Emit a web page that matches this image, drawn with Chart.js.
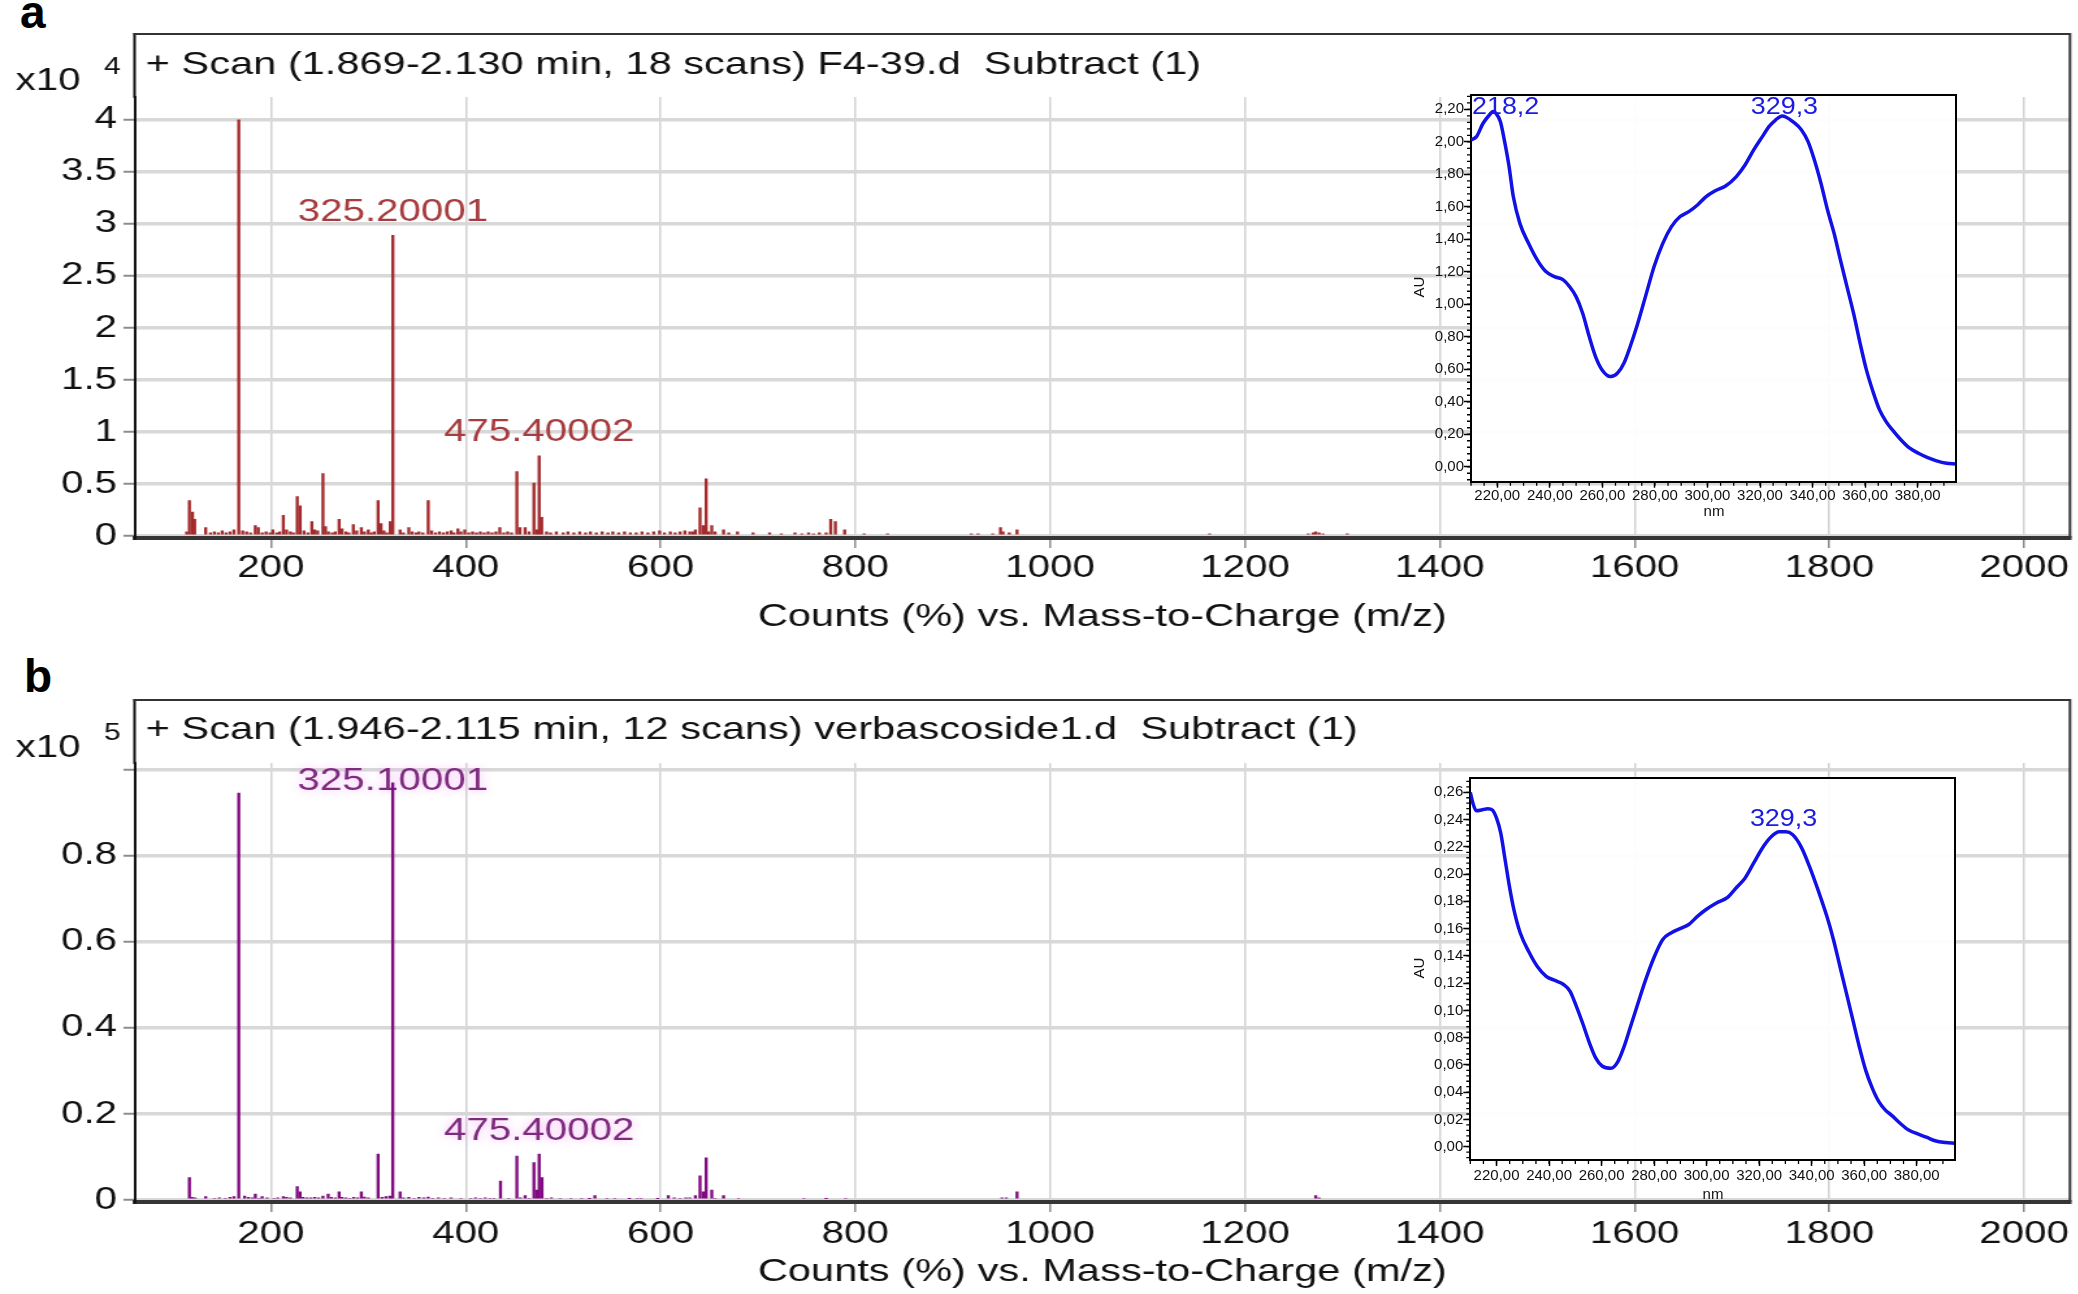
<!DOCTYPE html>
<html>
<head>
<meta charset="utf-8">
<script src="https://cdn.jsdelivr.net/npm/chart.js@4.4.1/dist/chart.umd.min.js"></script>
<style>
  html, body { margin: 0; padding: 0; background: #fff; }
  body { width: 2078px; height: 1294px; position: relative; overflow: hidden; }
  .stretch { position: absolute; left: 0; transform: scaleX(1.3); transform-origin: 0 0; }
  .uv { position: absolute; }
  .letter { position: absolute; font: bold 46px 'Liberation Sans', Arial, sans-serif; line-height: 46px; color: #000; }
</style>
</head>
<body>
<div class="letter" style="left:20px;top:-11px">a</div>
<div class="letter" style="left:24px;top:653px">b</div>
<div class="stretch" style="top:0;width:1598px;height:650px"><canvas id="msA" width="1598" height="650"></canvas></div>
<div class="stretch" style="top:650px;width:1598px;height:644px"><canvas id="msB" width="1598" height="644"></canvas></div>
<canvas id="uvA" class="uv" width="570" height="450" style="left:1400px;top:80px"></canvas>
<canvas id="uvB" class="uv" width="570" height="450" style="left:1400px;top:760px"></canvas>
<script>
const FONT = "'Liberation Sans', Arial, Helvetica, sans-serif";

// ---------- Mass spectra (m/z vs counts) ----------
const mzTicks = [200, 400, 600, 800, 1000, 1200, 1400, 1600, 1800, 2000];
const xTitle = 'Counts (%) vs. Mass-to-Charge (m/z)';

// Panel a (x10^4 counts)
const titleA = '+ Scan (1.869-2.130 min, 18 scans) F4-39.d  Subtract (1)';
const mzA = [113.5, 116.3, 119.5, 121.7, 133, 138, 142, 146, 150, 154, 158, 162, 167, 171, 175, 179, 184, 187, 191, 195, 199, 202, 206, 209, 212.7, 216, 220, 223, 227, 230, 234, 238, 242, 245, 248, 253.4, 256, 259, 263, 266, 270, 273, 277, 280, 284.6, 288, 292.8, 296, 300, 303, 306, 310, 313, 316, 319, 322.5, 325.2, 332.6, 336, 341.6, 345, 349, 352, 356, 361.5, 365, 369, 373, 377, 381, 385, 388, 392, 395, 399, 403, 407, 411, 415, 419, 423, 427, 431, 435, 439, 443, 447, 452.5, 455.6, 461, 465, 470, 473, 475.4, 478, 483, 487, 493, 500, 505, 511, 517, 523, 528, 534, 540, 546, 551, 557, 563, 569, 575, 581, 587, 593, 599, 604, 610, 615, 620, 625, 630, 633, 635.8, 640.5, 643.7, 646.8, 649.5, 652.6, 656, 664.7, 670, 679, 695, 712, 724, 738, 745, 752, 757, 763, 770, 774.7, 779.5, 789, 809, 833, 919, 926, 941, 949, 951.6, 958, 966, 1163.7, 1265, 1270, 1272.6, 1276, 1280, 1305];
const intA = [0.04, 0.34, 0.23, 0.16, 0.08, 0.03, 0.04, 0.03, 0.05, 0.03, 0.04, 0.06, 4.00, 0.05, 0.04, 0.03, 0.10, 0.08, 0.03, 0.04, 0.03, 0.06, 0.03, 0.04, 0.20, 0.06, 0.04, 0.03, 0.38, 0.29, 0.05, 0.03, 0.14, 0.06, 0.05, 0.60, 0.09, 0.04, 0.03, 0.04, 0.16, 0.07, 0.04, 0.03, 0.11, 0.05, 0.08, 0.04, 0.06, 0.03, 0.04, 0.34, 0.12, 0.05, 0.03, 0.14, 2.89, 0.06, 0.03, 0.08, 0.04, 0.03, 0.04, 0.03, 0.34, 0.05, 0.03, 0.04, 0.03, 0.04, 0.05, 0.03, 0.07, 0.04, 0.06, 0.03, 0.04, 0.03, 0.04, 0.03, 0.04, 0.03, 0.04, 0.08, 0.03, 0.04, 0.03, 0.62, 0.08, 0.08, 0.04, 0.51, 0.06, 0.77, 0.18, 0.04, 0.03, 0.04, 0.03, 0.04, 0.03, 0.04, 0.03, 0.04, 0.03, 0.04, 0.03, 0.04, 0.03, 0.04, 0.03, 0.03, 0.04, 0.03, 0.04, 0.05, 0.03, 0.04, 0.03, 0.04, 0.05, 0.04, 0.04, 0.06, 0.27, 0.10, 0.55, 0.04, 0.10, 0.04, 0.06, 0.03, 0.04, 0.03, 0.03, 0.02, 0.03, 0.02, 0.03, 0.02, 0.03, 0.03, 0.16, 0.14, 0.06, 0.02, 0.02, 0.02, 0.02, 0.02, 0.08, 0.04, 0.03, 0.06, 0.02, 0.02, 0.03, 0.04, 0.03, 0.02, 0.02];
const yTicksA = [0, 0.5, 1, 1.5, 2, 2.5, 3, 3.5, 4];
const yLabelsA = ['0', '0.5', '1', '1.5', '2', '2.5', '3', '3.5', '4'];
const annMzA = [325.2, 475.4];
const annTextA = ['325.20001', '475.40002'];

// Panel b (x10^5 counts)
const titleB = '+ Scan (1.946-2.115 min, 12 scans) verbascoside1.d  Subtract (1)';
const mzB = [116.3, 119, 122, 133, 142, 147, 153, 158, 162, 167, 173, 177, 181, 184, 188, 191, 196, 203, 207, 212.7, 216, 220, 227, 229.9, 233, 237, 241, 245, 249, 253.4, 258.8, 262, 266, 270, 273, 277, 281, 285, 289, 292.8, 296, 300, 310, 314, 318, 322, 325.1, 332.6, 336, 341.6, 347, 352, 357, 361.5, 366, 372, 378, 385, 395, 405, 410, 415, 420, 425, 429, 435.7, 444, 452.5, 456, 461, 465, 470, 472.9, 475.4, 478.3, 483, 488, 497, 508, 519, 527, 532.6, 545, 553, 568, 576, 580, 597, 608, 614, 620, 626, 630, 635.8, 640.5, 643.7, 646.8, 652.6, 656, 664.7, 680, 747, 770, 790, 950.5, 955, 966, 1272.6, 1276];
const intB = [0.052, 0.006, 0.005, 0.008, 0.004, 0.005, 0.004, 0.006, 0.008, 0.946, 0.009, 0.006, 0.005, 0.014, 0.004, 0.008, 0.005, 0.004, 0.005, 0.008, 0.006, 0.005, 0.031, 0.019, 0.006, 0.005, 0.005, 0.006, 0.005, 0.009, 0.014, 0.006, 0.005, 0.019, 0.006, 0.005, 0.004, 0.006, 0.005, 0.019, 0.007, 0.005, 0.107, 0.006, 0.008, 0.009, 0.970, 0.019, 0.005, 0.006, 0.004, 0.006, 0.005, 0.007, 0.004, 0.005, 0.004, 0.005, 0.004, 0.004, 0.005, 0.004, 0.005, 0.004, 0.004, 0.044, 0.004, 0.102, 0.005, 0.010, 0.004, 0.087, 0.023, 0.107, 0.052, 0.004, 0.005, 0.004, 0.004, 0.004, 0.003, 0.010, 0.004, 0.004, 0.003, 0.004, 0.004, 0.003, 0.010, 0.005, 0.004, 0.005, 0.005, 0.010, 0.056, 0.019, 0.098, 0.023, 0.004, 0.010, 0.004, 0.004, 0.003, 0.004, 0.005, 0.005, 0.019, 0.010, 0.005];
const yTicksB = [0, 0.2, 0.4, 0.6, 0.8, 1.0];
const yLabelsB = ['0', '0.2', '0.4', '0.6', '0.8', ''];
const annMzB = [325.1, 475.4];
const annTextB = ['325.10001', '475.40002'];

// ---------- UV spectra (AU vs nm) ----------
const uvXTicks = [220, 240, 260, 280, 300, 320, 340, 360, 380];
const nmA = [210, 212.1, 214.6, 217, 218.4, 219.5, 221.2, 222.8, 224.5, 226.1, 228.6, 231.9, 235.2, 238.5, 241.8, 245.1, 247.5, 250, 252.5, 255, 257.4, 259.9, 263.2, 265.7, 268.2, 270.6, 273.1, 276.4, 279.7, 283, 286.3, 289.6, 292.9, 296.2, 299.5, 302.8, 306.9, 311, 314.3, 317.6, 320.9, 323.4, 325.9, 328.4, 330, 332.5, 335.8, 338.3, 340.7, 343.2, 345.7, 348.2, 350.6, 353.1, 355.6, 358.1, 360.5, 363, 365.5, 368, 370.4, 373.7, 377, 380.3, 383.6, 386.9, 391, 394.6];
const auA = [2.011, 2.032, 2.114, 2.165, 2.186, 2.175, 2.124, 2.001, 1.847, 1.663, 1.498, 1.375, 1.273, 1.201, 1.170, 1.150, 1.109, 1.047, 0.945, 0.801, 0.678, 0.596, 0.555, 0.575, 0.637, 0.740, 0.863, 1.047, 1.232, 1.375, 1.478, 1.540, 1.570, 1.611, 1.663, 1.697, 1.728, 1.786, 1.857, 1.950, 2.032, 2.093, 2.134, 2.159, 2.151, 2.124, 2.073, 2.001, 1.888, 1.745, 1.580, 1.437, 1.273, 1.109, 0.945, 0.760, 0.596, 0.463, 0.350, 0.278, 0.227, 0.165, 0.114, 0.083, 0.058, 0.038, 0.021, 0.017];
const uvYTicksA = [0, 0.2, 0.4, 0.6, 0.8, 1.0, 1.2, 1.4, 1.6, 1.8, 2.0, 2.2];
const uvPeakNmA = [218.2, 329.3];
const uvPeakTextA = ['218,2', '329,3'];

const nmB = [210, 211, 212.3, 214.2, 216.7, 218.4, 220, 221.6, 223.3, 224.9, 226.6, 229, 232.3, 235.6, 238.9, 242.2, 245.5, 248, 250.4, 252.9, 255.4, 257.8, 260.3, 263.6, 266.1, 268.5, 271, 273.5, 276.7, 280, 283.3, 286.6, 289.9, 293.2, 296.5, 299.8, 303.9, 308, 311.3, 314.6, 317.9, 321.2, 324.4, 327.7, 330.2, 332.7, 336, 339.2, 342.5, 345.8, 348.3, 350.8, 353.2, 355.7, 358.2, 360.6, 363.1, 365.6, 368, 370.5, 373.8, 377.1, 380.4, 383.7, 387, 391.1, 394.6];
const auB = [0.260, 0.252, 0.2465, 0.247, 0.248, 0.247, 0.241, 0.230, 0.210, 0.191, 0.174, 0.157, 0.143, 0.132, 0.125, 0.122, 0.119, 0.114, 0.103, 0.090, 0.076, 0.065, 0.059, 0.0575, 0.062, 0.073, 0.088, 0.103, 0.122, 0.139, 0.152, 0.157, 0.160, 0.163, 0.169, 0.174, 0.179, 0.183, 0.190, 0.197, 0.208, 0.219, 0.227, 0.231, 0.231, 0.229, 0.220, 0.2055, 0.188, 0.169, 0.152, 0.132, 0.113, 0.093, 0.073, 0.056, 0.043, 0.033, 0.027, 0.023, 0.017, 0.012, 0.0094, 0.007, 0.0044, 0.003, 0.0025];
const uvYTicksB = [0, 0.02, 0.04, 0.06, 0.08, 0.10, 0.12, 0.14, 0.16, 0.18, 0.20, 0.22, 0.24, 0.26];
const uvPeakNmB = [329.3];
const uvPeakTextB = ['329,3'];

function peakHeight(xs, ys, x0, win) {
  let best = 0;
  xs.forEach((x, i) => { if (Math.abs(x - x0) <= win && ys[i] > best) best = ys[i]; });
  return best;
}

function framePlugin(c) {
  return {
    id: 'msFrame',
    beforeDatasetsDraw(chart) {
      const ctx = chart.ctx, a = chart.chartArea, xs = chart.scales.x, ys = chart.scales.y;
      ctx.save();
      ctx.font = '31px ' + FONT;
      ctx.textAlign = 'center';
      ctx.textBaseline = 'middle';
      ctx.fillStyle = c.labelColor;
      if (c.halo) { ctx.shadowColor = c.halo; ctx.shadowBlur = 8; }
      c.annMz.forEach((mz, i) => {
        const h = peakHeight(c.mz, c.inten, mz, 1.5);
        const px = xs.getPixelForValue(mz);
        const py = Math.max(ys.getPixelForValue(h) - 23, a.top + 18);
        ctx.fillText(c.annText[i], px, py);
      });
      ctx.restore();
    },
    afterDraw(chart) {
      const ctx = chart.ctx, a = chart.chartArea;
      ctx.save();
      ctx.strokeStyle = '#111';
      ctx.lineWidth = 2;
      ctx.beginPath(); ctx.moveTo(a.left, a.top + 1); ctx.lineTo(a.left, c.frameTop - 1); ctx.stroke();
      ctx.strokeStyle = '#333';
      ctx.beginPath(); ctx.moveTo(a.left - 1, c.frameTop); ctx.lineTo(a.right, c.frameTop); ctx.lineTo(a.right, a.bottom); ctx.stroke();
      ctx.fillStyle = '#111';
      ctx.textAlign = 'left';
      ctx.textBaseline = 'middle';
      ctx.font = '32px ' + FONT;
      ctx.fillText(c.title, 112, c.titleY);
      ctx.font = '31px ' + FONT;
      ctx.fillText('x10', 12, c.x10Y);
      ctx.font = '23px ' + FONT;
      ctx.fillText(c.exp, 80, c.expY);
      ctx.restore();
    }
  };
}

function massChart(id, c) {
  const pts = c.mz.map((x, i) => ({ x: x, y: c.inten[i] }));
  return new Chart(document.getElementById(id), {
    type: 'bar',
    data: { datasets: [{ data: pts, backgroundColor: c.color, borderWidth: 0, barThickness: 1.7 }] },
    options: {
      responsive: false, animation: false, events: [], devicePixelRatio: 1,
      layout: { padding: { top: c.areaTop, right: 5.7, left: 0, bottom: 0 } },
      plugins: { legend: { display: false }, tooltip: { enabled: false } },
      scales: {
        x: {
          type: 'linear', min: 60, max: 2047, offset: false,
          afterBuildTicks: s => { s.ticks = mzTicks.map(v => ({ value: v })); },
          afterFit: s => { s.height = c.xHeight; },
          grid: { offset: false, color: '#d2d2d2', lineWidth: 1.5, drawTicks: true, tickLength: 10, tickColor: '#8c8c8c', tickWidth: 1.5 },
          border: { display: true, color: '#353535', width: 4 },
          ticks: { color: '#111', font: { family: FONT, size: 31 }, padding: c.xTickPad, maxRotation: 0, minRotation: 0, autoSkip: false, callback: v => String(v) },
          title: { display: true, text: xTitle, color: '#111', font: { family: FONT, size: 32 }, padding: { top: 0, bottom: c.xTitlePad } }
        },
        y: {
          type: 'linear', min: c.yMin, max: c.yMax,
          afterBuildTicks: s => { s.ticks = c.yTicks.map(v => ({ value: v })); },
          afterFit: s => { s.width = 103.5; },
          grid: { color: '#d8d8d8', lineWidth: 3.5, drawTicks: true, tickLength: 8.5, tickColor: '#8c8c8c', tickWidth: 2 },
          border: { display: true, color: '#111', width: 2 },
          ticks: { color: '#111', font: { family: FONT, size: 31 }, padding: 5, autoSkip: false, callback: (v, i) => c.yLabels[i] }
        }
      }
    },
    plugins: [framePlugin(c)]
  });
}

massChart('msA', {
  mz: mzA, inten: intA, color: '#a42a2c', labelColor: '#a63c3e', halo: null,
  annMz: annMzA, annText: annTextA, title: titleA, exp: '4',
  areaTop: 97, xHeight: 112, xTickPad: 1.5, xTitlePad: 13.3,
  yMin: -0.019, yMax: 4.22, yTicks: yTicksA, yLabels: yLabelsA,
  frameTop: 34, titleY: 65, x10Y: 81, expY: 68
});
massChart('msB', {
  mz: mzB, inten: intB, color: '#800a80', labelColor: '#7e2a7e', halo: 'rgba(245,170,245,0.9)',
  annMz: annMzB, annText: annTextB, title: titleB, exp: '5',
  areaTop: 113, xHeight: 92, xTickPad: 3.5, xTitlePad: 2.8,
  yMin: -0.0047, yMax: 1.016, yTicks: yTicksB, yLabels: yLabelsB,
  frameTop: 50, titleY: 80, x10Y: 98, expY: 84
});

function uvPlugin(c) {
  return {
    id: 'uvDecor',
    beforeDraw(chart) {
      const ctx = chart.ctx, a = chart.chartArea;
      ctx.save();
      ctx.fillStyle = 'rgba(255,255,255,0.93)';
      ctx.fillRect(a.left, a.top, a.right - a.left, a.bottom - a.top);
      ctx.restore();
    },
    afterDraw(chart) {
      const ctx = chart.ctx, a = chart.chartArea, xs = chart.scales.x, ys = chart.scales.y;
      ctx.save();
      ctx.strokeStyle = '#000';
      ctx.lineWidth = 1.3;
      ctx.beginPath();
      for (let k = Math.ceil(c.yMin / c.yMinor); k * c.yMinor <= c.yMax; k++) {
        const py = ys.getPixelForValue(k * c.yMinor);
        ctx.moveTo(a.left - 4, py); ctx.lineTo(a.left, py);
      }
      for (let k = 42; k * 5 <= 394; k++) {
        const px = xs.getPixelForValue(k * 5);
        ctx.moveTo(px, a.bottom); ctx.lineTo(px, a.bottom + 4);
      }
      ctx.stroke();
      ctx.lineWidth = 2;
      ctx.beginPath(); ctx.moveTo(a.left - 1, a.top); ctx.lineTo(a.right, a.top); ctx.lineTo(a.right, a.bottom + 1); ctx.stroke();
      ctx.fillStyle = '#111';
      ctx.font = '15px ' + FONT;
      ctx.textAlign = 'center'; ctx.textBaseline = 'middle';
      ctx.fillText('nm', c.nmPos[0], c.nmPos[1]);
      ctx.save();
      ctx.translate(c.auPos[0], c.auPos[1]); ctx.rotate(-Math.PI / 2);
      ctx.fillText('AU', 0, 0);
      ctx.restore();
      ctx.fillStyle = '#1a1ae0';
      ctx.font = '24px ' + FONT;
      c.peakNm.forEach((nm, i) => {
        const w = ctx.measureText(c.peakText[i]).width * 1.12;
        const h = peakHeight(c.nm, c.au, nm, 3);
        const px = Math.max(xs.getPixelForValue(nm), a.left + w / 2 + 1);
        const py = Math.max(ys.getPixelForValue(h) - 12, a.top + 12);
        ctx.save();
        ctx.translate(px, py); ctx.scale(1.12, 1);
        ctx.fillText(c.peakText[i], 0, 0);
        ctx.restore();
      });
      ctx.restore();
    }
  };
}

function uvChart(id, c) {
  const pts = c.nm.map((x, i) => ({ x: x, y: c.au[i] }));
  const fmt = v => Number(v).toFixed(2).replace('.', ',');
  return new Chart(document.getElementById(id), {
    type: 'line',
    data: { datasets: [{ data: pts, borderColor: '#1212e6', borderWidth: 3.5, pointRadius: 0, fill: false, cubicInterpolationMode: 'monotone' }] },
    options: {
      responsive: false, animation: false, events: [], devicePixelRatio: 1,
      layout: { padding: { top: c.top, right: c.right, left: 0, bottom: 0 } },
      plugins: { legend: { display: false }, tooltip: { enabled: false } },
      scales: {
        x: {
          type: 'linear', min: 210, max: 394.6,
          afterBuildTicks: s => { s.ticks = uvXTicks.map(v => ({ value: v })); },
          afterFit: s => { s.height = c.xHeight; },
          grid: { drawOnChartArea: false, drawTicks: true, tickLength: 6, tickColor: '#000', tickWidth: 1.5 },
          border: { display: true, color: '#000', width: 2 },
          ticks: { color: '#111', font: { family: FONT, size: 15 }, padding: c.xPad, maxRotation: 0, minRotation: 0, autoSkip: false, callback: fmt }
        },
        y: {
          type: 'linear', min: c.yMin, max: c.yMax,
          afterBuildTicks: s => { s.ticks = c.yTicks.map(v => ({ value: v })); },
          afterFit: s => { s.width = c.yWidth; },
          grid: { drawOnChartArea: false, drawTicks: true, tickLength: 7, tickColor: '#000', tickWidth: 1.5 },
          border: { display: true, color: '#000', width: 2 },
          ticks: { color: '#111', font: { family: FONT, size: 15 }, padding: 0, autoSkip: false, callback: fmt }
        }
      }
    },
    plugins: [uvPlugin(c)]
  });
}

uvChart('uvA', {
  nm: nmA, au: auA, yMin: -0.092, yMax: 2.288, yTicks: uvYTicksA, yMinor: 0.04,
  yWidth: 71, top: 15, right: 14, xHeight: 48.3, xPad: -1,
  peakNm: uvPeakNmA, peakText: uvPeakTextA, nmPos: [314, 432], auPos: [19.5, 207]
});
uvChart('uvB', {
  nm: nmB, au: auB, yMin: -0.00976, yMax: 0.2705, yTicks: uvYTicksB, yMinor: 0.004,
  yWidth: 70.3, top: 18, right: 15, xHeight: 50, xPad: 1,
  peakNm: uvPeakNmB, peakText: uvPeakTextB, nmPos: [313, 435], auPos: [19.4, 208]
});
</script>
</body>
</html>
